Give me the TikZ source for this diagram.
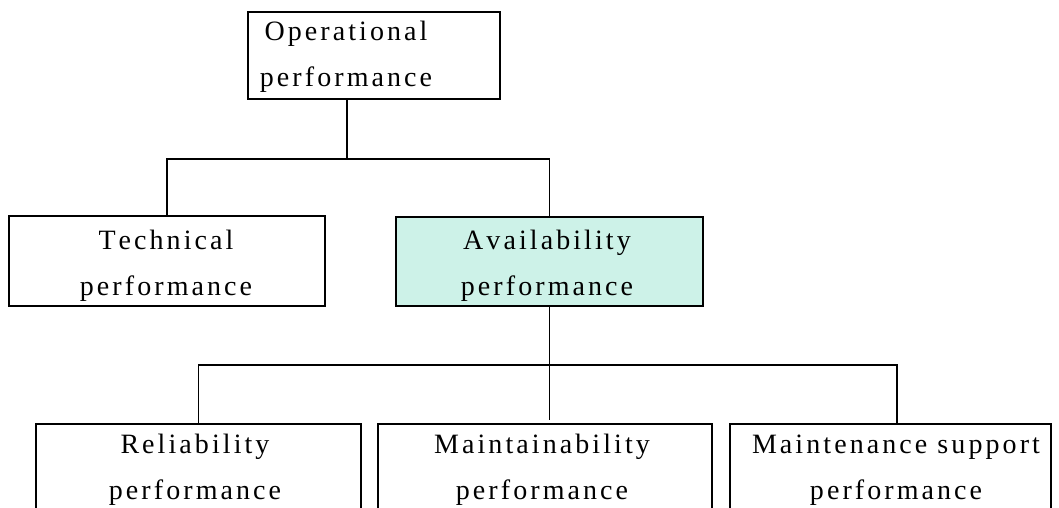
\documentclass[tikz,border=0pt]{standalone}
\usepackage{fontspec}
\setmainfont{Liberation Serif}[LetterSpace=11]
\newcommand\capgap{\kern3pt}
\definecolor{availfill}{RGB}{205,242,232}
\begin{document}
\begin{tikzpicture}[x=1pt,y=1pt,
  box/.style={draw=black, line width=1.2pt, inner sep=0pt, outer sep=0pt},
  lbl/.style={align=center, anchor=base, inner sep=0pt,
    font=\fontsize{28}{46}\selectfont},
  link/.style={draw=black, line width=1.2pt}]
\useasboundingbox (0,0) rectangle (1059,-508);
\clip (0,0) rectangle (1059,-508);

% boxes
\node[box, minimum width=252, minimum height=87] (op) at (374,-55.5) {};
\node[box, minimum width=316, minimum height=90] (tech) at (167,-261) {};
\node[box, fill=availfill, minimum width=307, minimum height=89] (av) at (549.5,-261.5) {};
\node[box, minimum width=325, minimum height=116] (rel) at (198.5,-482) {};
\node[box, minimum width=334, minimum height=116] (mnt) at (545,-482) {};
\node[box, minimum width=321, minimum height=116] (sup) at (890.5,-482) {};

% labels (anchored at the baseline of the second line)
\node[lbl] (opt) at (346,-87) {O\capgap perational\\perform\capgap ance};
\node[lbl] (techt) at (166,-295) {T\capgap echnical\\perform\capgap ance};
\node[lbl] (avt) at (547,-295) {A\capgap vailability\\perform\capgap ance};
\node[lbl] (relt) at (195,-499) {R\capgap eliability\\perform\capgap ance};
\node[lbl] (mntt) at (542,-499) {M\capgap aintainability\\perform\capgap ance};
\node[lbl] (supt) at (896,-499) {M\capgap aintenance support\\perform\capgap ance};

% junctions
\coordinate (j1) at (347,-159);
\coordinate (j2) at (549.5,-365);

% connectors
\draw[link] (op.south -| j1) -- (j1);
\draw[link] (tech.north) |- (j1) -| (av.north);
\draw[link] (av.south) -- (j2);
\draw[link] (rel.north) |- (j2) -| ([xshift=6.5pt]sup.north);
\draw[link, shorten >=4pt] (j2) -- (mnt.north -| j2);
\end{tikzpicture}
\end{document}
